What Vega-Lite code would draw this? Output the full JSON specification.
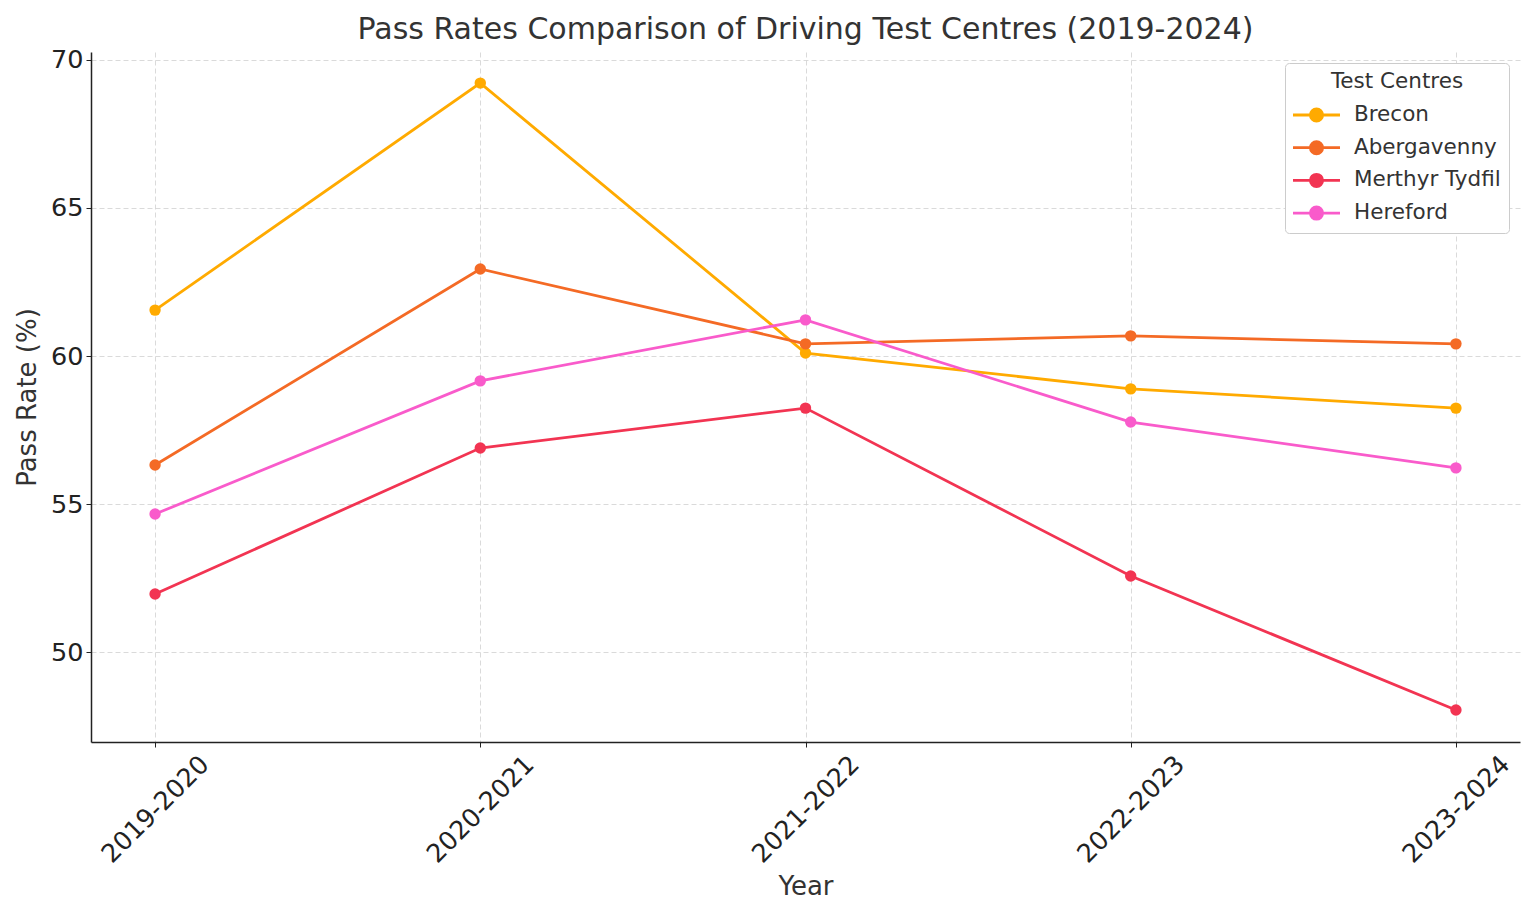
{
  "$schema": "https://vega.github.io/schema/vega-lite/v6.json",
  "autosize": {"type": "none"},
  "width": 1429,
  "height": 690,
  "padding": {"left": 91, "top": 52, "right": 16, "bottom": 176},
  "background": "white",
  "title": {
    "text": "Pass Rates Comparison of Driving Test Centres (2019-2024)",
    "font": "DejaVu Sans",
    "fontSize": 30,
    "fontWeight": "normal",
    "color": "#333333",
    "anchor": "middle",
    "offset": 3
  },
  "config": {
    "font": "DejaVu Sans",
    "view": {"stroke": null},
    "axis": {
      "labelFont": "DejaVu Sans",
      "titleFont": "DejaVu Sans",
      "labelColor": "#222222",
      "titleColor": "#333333",
      "titleFontWeight": "normal",
      "labelFontSize": 25.5,
      "titleFontSize": 26,
      "domainColor": "#222222",
      "domainWidth": 1.5,
      "tickColor": "#222222",
      "tickSize": 5,
      "gridColor": "#d0d0d0",
      "gridDash": [5, 3],
      "gridWidth": 0.8
    }
  },
  "data": {
    "values": [
      {"year": "2019-2020", "centre": "Brecon", "rate": 61.55},
      {"year": "2020-2021", "centre": "Brecon", "rate": 69.22},
      {"year": "2021-2022", "centre": "Brecon", "rate": 60.10},
      {"year": "2022-2023", "centre": "Brecon", "rate": 58.89},
      {"year": "2023-2024", "centre": "Brecon", "rate": 58.24},
      {"year": "2019-2020", "centre": "Abergavenny", "rate": 56.32},
      {"year": "2020-2021", "centre": "Abergavenny", "rate": 62.94},
      {"year": "2021-2022", "centre": "Abergavenny", "rate": 60.41},
      {"year": "2022-2023", "centre": "Abergavenny", "rate": 60.68},
      {"year": "2023-2024", "centre": "Abergavenny", "rate": 60.41},
      {"year": "2019-2020", "centre": "Merthyr Tydfil", "rate": 51.96},
      {"year": "2020-2021", "centre": "Merthyr Tydfil", "rate": 56.89},
      {"year": "2021-2022", "centre": "Merthyr Tydfil", "rate": 58.24},
      {"year": "2022-2023", "centre": "Merthyr Tydfil", "rate": 52.57},
      {"year": "2023-2024", "centre": "Merthyr Tydfil", "rate": 48.04},
      {"year": "2019-2020", "centre": "Hereford", "rate": 54.66},
      {"year": "2020-2021", "centre": "Hereford", "rate": 59.16},
      {"year": "2021-2022", "centre": "Hereford", "rate": 61.22},
      {"year": "2022-2023", "centre": "Hereford", "rate": 57.77},
      {"year": "2023-2024", "centre": "Hereford", "rate": 56.22}
    ]
  },
  "mark": {"type": "line", "strokeWidth": 2.8, "point": {"filled": true, "size": 130, "opacity": 1}},
  "encoding": {
    "x": {
      "field": "year",
      "type": "ordinal",
      "title": "Year",
      "scale": {"type": "point", "padding": 0.197},
      "axis": {"labelAngle": -45, "labelAlign": "center", "labelBaseline": "middle", "labelPadding": 62, "labelOffset": 0, "titlePadding": 6, "grid": true}
    },
    "y": {
      "field": "rate",
      "type": "quantitative",
      "title": "Pass Rate (%)",
      "scale": {"domain": [46.96, 70.27], "nice": false, "zero": false},
      "axis": {"values": [50, 55, 60, 65, 70], "grid": true, "titlePadding": 10, "labelPadding": 3}
    },
    "color": {
      "field": "centre",
      "type": "nominal",
      "scale": {
        "domain": ["Brecon", "Abergavenny", "Merthyr Tydfil", "Hereford"],
        "range": ["#FFAA00", "#F46A25", "#F23452", "#F95BCB"]
      },
      "legend": {
        "title": "Test Centres",
        "orient": "top-right",
        "offset": 11,
        "titleFontSize": 21.5,
        "titleFontWeight": "normal",
        "titleColor": "#333333",
        "titleAnchor": "middle",
        "titlePadding": 9,
        "labelFontSize": 21.5,
        "labelColor": "#333333",
        "labelOffset": 24,
        "rowPadding": 6.7,
        "padding": 8,
        "fillColor": "white",
        "strokeColor": "#cccccc",
        "cornerRadius": 4,
        "symbolType": "M-2,0H2M0.52,0A0.52,0.52 0 1,1 -0.52,0A0.52,0.52 0 1,1 0.52,0Z",
        "symbolSize": 552,
        "symbolOffset": 10,
        "symbolStrokeWidth": 2.8,
        "encode": {
          "symbols": {"update": {"fill": {"scale": "color", "field": "value"}, "fillOpacity": {"value": 1}}}
        }
      }
    }
  }
}
